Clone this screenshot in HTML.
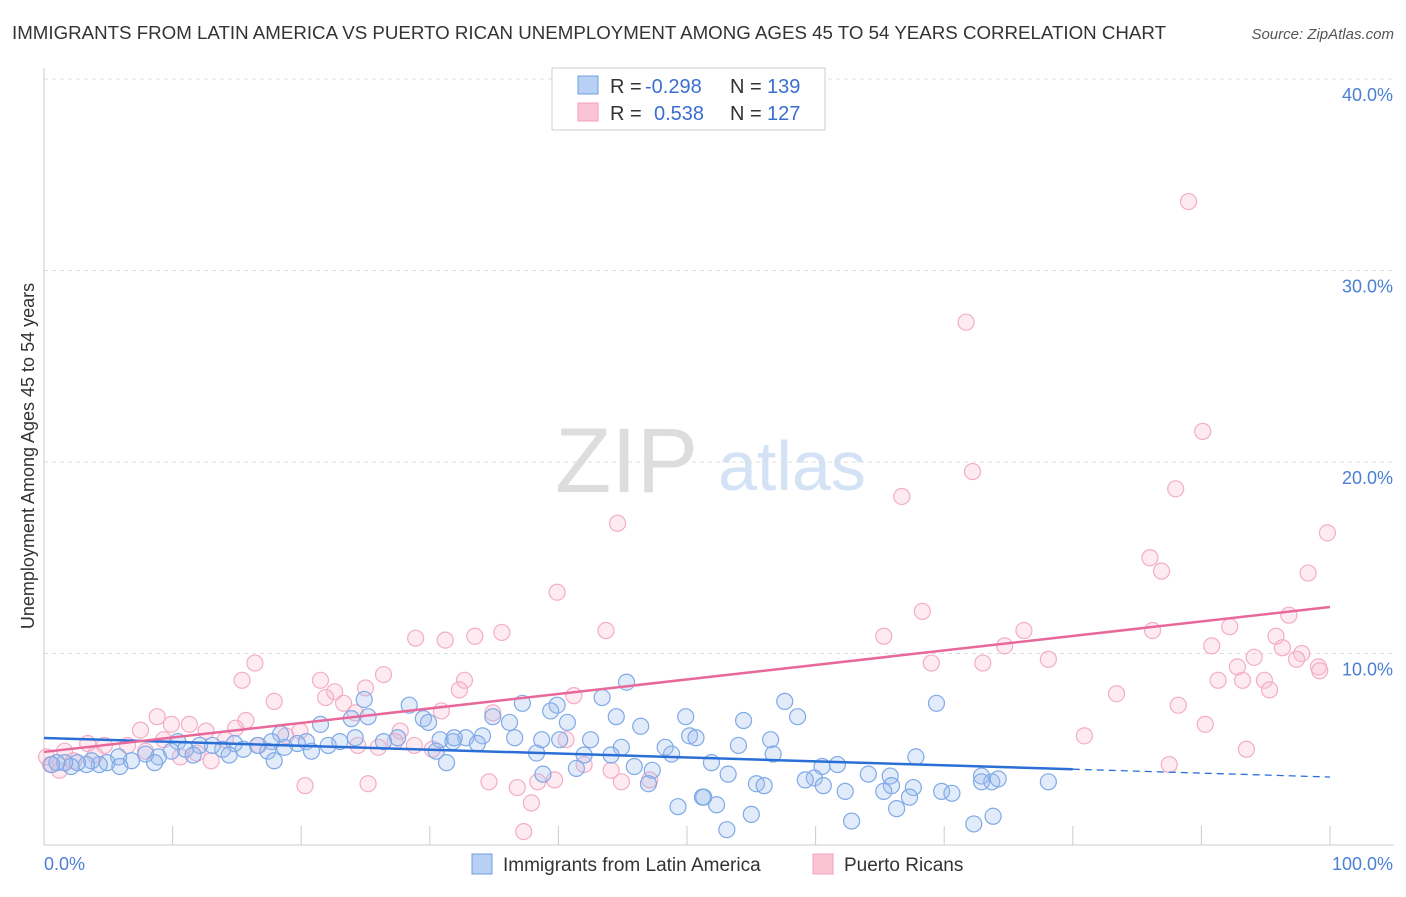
<!DOCTYPE html>
<html><head><meta charset="utf-8"><style>
body{margin:0;background:#fff;font-family:"Liberation Sans",sans-serif}
svg text{font-family:"Liberation Sans",sans-serif}
</style></head><body>
<svg id="chart" width="1406" height="892" xmlns="http://www.w3.org/2000/svg">
<text x="12" y="39" font-size="18" fill="#333" textLength="1154" lengthAdjust="spacingAndGlyphs">IMMIGRANTS FROM LATIN AMERICA VS PUERTO RICAN UNEMPLOYMENT AMONG AGES 45 TO 54 YEARS CORRELATION CHART</text>
<text x="1394" y="39" font-size="15" fill="#555" font-style="italic" text-anchor="end">Source: ZipAtlas.com</text>
<g>
<text x="555" y="492" font-size="92" fill="#ddd" font-family="Liberation Serif">ZIP</text>
<text x="718" y="490" font-size="70" fill="#d3e2f5">atlas</text>
</g>
<g id="grid"></g>
<g id="axes"></g>
<g id="marks"></g>
<text transform="translate(34,456) rotate(-90)" font-size="18" fill="#333" text-anchor="middle">Unemployment Among Ages 45 to 54 years</text>
<g>
<rect x="552" y="68" width="273" height="62" fill="#fff" stroke="#ccc"/>
<rect x="578" y="76" width="20" height="18" fill="#b9d0f5" stroke="#6fa0e0"/>
<rect x="578" y="103" width="20" height="18" fill="#fac4d5" stroke="#f0a0bd"/>
<text x="610" y="93" font-size="20" fill="#333">R =</text>
<text x="645" y="93" font-size="20" fill="#3a6fd0">-0.298</text>
<text x="730" y="93" font-size="20" fill="#333">N =</text>
<text x="767" y="93" font-size="20" fill="#3a6fd0">139</text>
<text x="610" y="120" font-size="20" fill="#333">R =</text>
<text x="654" y="120" font-size="20" fill="#3a6fd0">0.538</text>
<text x="730" y="120" font-size="20" fill="#333">N =</text>
<text x="767" y="120" font-size="20" fill="#3a6fd0">127</text>
</g>
<g>
<rect x="472" y="854" width="20" height="20" fill="#b9d0f5" stroke="#6fa0e0"/>
<text x="503" y="871" font-size="19" fill="#333">Immigrants from Latin America</text>
<rect x="813" y="854" width="20" height="20" fill="#fac4d5" stroke="#f0a0bd"/>
<text x="844" y="871" font-size="19" fill="#333">Puerto Ricans</text>
</g>
</svg>
<script>
const yTicks=[10,20,30,40];
const yTickLabels=["10.0%","20.0%","30.0%","40.0%"];
const xTickLabels=["0.0%","100.0%"];
const blueTrend=[5.59,3.55];
const pinkTrend=[4.86,12.43];
const blueX=[45.3,28.4,37.2,39.9,43.4,57.6,69.4,24.9,39.4,58.6,49.9,54.4,44.5,25.2,29.5,29.9,23.9,21.5,34.9,36.2,40.7,46.4,50.2,50.7,56.5,54.0,56.7,40.1,42.5,42.0,44.9,44.1,36.6,34.1,32.8,31.8,30.8,33.7,31.9,48.3,48.8,51.9,38.3,38.7,27.5,26.4,24.2,23.0,22.1,20.4,19.7,18.4,17.7,18.7,20.8,17.4,16.6,15.5,14.8,13.9,13.1,12.1,10.4,11.0,9.9,8.9,7.9,6.8,5.8,4.9,4.3,3.7,3.3,2.6,2.1,1.6,1.0,0.6,5.9,8.6,11.6,14.4,17.9,31.3,30.5,45.9,47.3,53.2,55.4,56.0,60.5,61.7,59.9,60.6,59.2,64.1,65.8,67.8,65.9,67.6,65.3,62.3,69.8,70.6,67.3,72.9,73.7,74.2,78.1,72.9,38.8,41.4,47.0,49.3,51.2,52.3,55.0,53.1,62.8,66.3,72.3,73.8,51.3];
const blueY=[8.5,7.3,7.4,7.3,7.7,7.5,7.4,7.6,7.0,6.7,6.7,6.5,6.7,6.7,6.6,6.4,6.6,6.3,6.7,6.4,6.4,6.2,5.7,5.6,5.5,5.2,4.75,5.5,5.5,4.7,5.1,4.7,5.6,5.7,5.6,5.4,5.5,5.3,5.6,5.1,4.75,4.3,4.8,5.5,5.6,5.4,5.6,5.4,5.2,5.4,5.3,5.8,5.4,5.1,4.9,4.9,5.2,5.0,5.3,5.0,5.2,5.2,5.4,5.0,4.9,4.6,4.75,4.4,4.6,4.3,4.2,4.4,4.2,4.3,4.1,4.3,4.3,4.2,4.1,4.3,4.7,4.7,4.4,4.3,4.9,4.1,3.9,3.7,3.2,3.1,4.1,4.2,3.5,3.1,3.4,3.7,3.6,4.6,3.1,3.0,2.8,2.8,2.8,2.7,2.5,3.6,3.3,3.45,3.3,3.3,3.7,4.0,3.2,2.0,2.5,2.1,1.6,0.8,1.25,1.9,1.1,1.5,2.5];
const pinkX=[89.0,71.7,72.2,90.1,88.0,66.7,44.6,99.8,86.0,86.9,98.3,39.9,68.3,96.8,92.2,86.2,76.2,43.7,35.6,33.5,65.3,28.9,31.2,95.8,74.7,90.8,96.3,94.1,97.8,78.1,69.0,73.0,92.8,99.1,97.4,99.2,16.4,91.3,93.2,94.9,95.3,26.4,21.5,15.4,32.7,32.3,22.6,25.0,83.4,41.2,17.9,21.9,23.3,88.2,24.2,30.9,34.9,8.8,11.3,15.7,9.9,14.9,19.9,12.6,7.5,90.3,80.9,27.7,18.8,14.1,9.3,6.5,3.4,4.7,16.7,40.6,24.4,26.0,28.8,30.2,93.5,11.9,10.6,13.0,7.9,3.97,2.3,0.5,1.2,0.2,1.6,42.0,87.5,34.6,38.4,39.7,47.1,20.3,25.2,44.1,36.8,44.9,37.9,37.3,27.3];
const pinkY=[33.6,27.3,19.5,21.6,18.6,18.2,16.8,16.3,15.0,14.3,14.2,13.2,12.2,12.0,11.4,11.2,11.2,11.2,11.1,10.9,10.9,10.8,10.7,10.9,10.4,10.4,10.3,9.8,10.0,9.7,9.5,9.5,9.3,9.3,9.7,9.1,9.5,8.6,8.6,8.6,8.1,8.9,8.6,8.6,8.6,8.1,8.0,8.2,7.9,7.8,7.5,7.7,7.4,7.3,6.9,7.0,6.9,6.7,6.3,6.5,6.3,6.1,5.95,5.95,6.0,6.3,5.7,5.95,5.7,5.5,5.5,5.2,5.3,5.2,5.2,5.5,5.2,5.1,5.2,5.0,5.0,4.8,4.6,4.4,4.9,4.7,4.4,4.2,3.9,4.6,4.9,4.2,4.2,3.3,3.3,3.4,3.4,3.1,3.2,3.9,3.0,3.3,2.2,0.7,5.4];
const NS="http://www.w3.org/2000/svg";
const X0=44,X1=1330,Y0=845,PX=19.15;
function sx(v){return X0+(X1-X0)*v/100;}
function sy(v){return Y0-v*PX;}
function mk(tag,attrs,parent){const e=document.createElementNS(NS,tag);for(const k in attrs)e.setAttribute(k,attrs[k]);parent.appendChild(e);return e;}
const grid=document.getElementById('grid'),axes=document.getElementById('axes'),marks=document.getElementById('marks');
yTicks.forEach((t,i)=>{
 const l=mk('line',{x1:X0,x2:1394,y1:sy(t),y2:sy(t),stroke:'#ddd','stroke-dasharray':'4,4'},grid);
 
 
 const tx=mk('text',{x:1393,y:sy(t)+22,'font-size':18,fill:'#4a7fd4','text-anchor':'end'},axes);
 tx.textContent=yTickLabels[i];
 
 
});
const ax=mk('line',{x1:X0,x2:X0,y1:68,y2:Y0,stroke:'#ccc'},axes);


const bx=mk('line',{x1:X0,x2:1394,y1:Y0,y2:Y0,stroke:'#ccc'},axes);


for(let i=0;i<=10;i++){
 const t=mk('line',{x1:sx(i*10),x2:sx(i*10),y1:826,y2:Y0,stroke:'#ccc'},axes);
 
 
}
[[0,'start',X0],[1,'end',1393]].forEach(([i,a,x])=>{
 const tx=mk('text',{x:x,y:870,'font-size':18,fill:'#4a7fd4','text-anchor':a},axes);
 tx.textContent=xTickLabels[i];
 
 
});
function pts(xs,ys,stroke,fill,name){
 xs.forEach((x,i)=>{
  const c=mk('circle',{cx:sx(x),cy:sy(ys[i]),r:8,fill:fill,stroke:stroke,'stroke-width':1.2},marks);
  
  
 });
}
pts(pinkX,pinkY,'#f3adc6','rgba(248,190,210,0.3)','puerto-rican-point');
pts(blueX,blueY,'#7faae6','rgba(160,190,240,0.3)','latin-america-point');
const bAt=v=>blueTrend[0]+(blueTrend[1]-blueTrend[0])*v/100;
const bl=mk('line',{x1:sx(0),y1:sy(bAt(0)),x2:sx(80),y2:sy(bAt(80)),stroke:'#2a6fd6','stroke-width':2.5},marks);


const bd=mk('line',{x1:sx(80),y1:sy(bAt(80)),x2:sx(100),y2:sy(bAt(100)),stroke:'#2a6fd6','stroke-width':1.3,'stroke-dasharray':'7,5'},marks);


const pl=mk('line',{x1:sx(0),y1:sy(pinkTrend[0]),x2:sx(100),y2:sy(pinkTrend[1]),stroke:'#e8689a','stroke-width':2.5},marks);


</script>
</body></html>
